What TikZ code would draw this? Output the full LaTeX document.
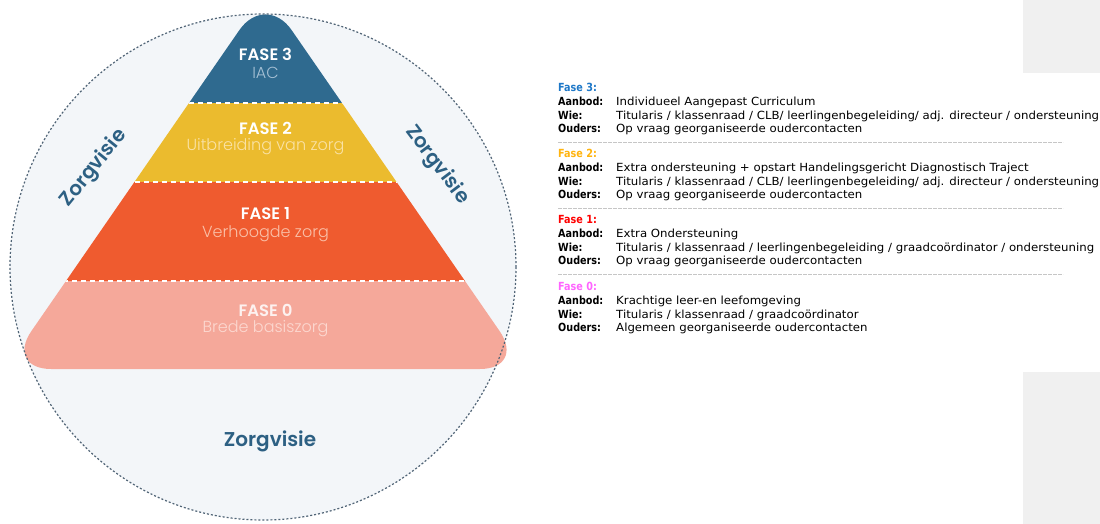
\documentclass[tikz,border=0pt]{standalone}
\usepackage{fontspec}
\setmainfont{Poppins}
\newfontfamily\semifont{Poppins SemiBold}
\newfontfamily\lightfont{Poppins Light}
\newfontfamily\infofont[FakeStretch=1.05]{DejaVu Sans}
\newfontfamily\infobold[FakeStretch=0.86]{DejaVu Sans Bold}
\usetikzlibrary{positioning}
\definecolor{zvblue}{RGB}{45,96,131}
\definecolor{f3blue}{RGB}{47,106,143}
\definecolor{f2yellow}{RGB}{235,187,46}
\definecolor{f1orange}{RGB}{239,91,47}
\definecolor{f0pink}{RGB}{245,168,154}
\definecolor{sub3}{RGB}{165,192,212}
\definecolor{sub2}{RGB}{250,226,165}
\definecolor{sub1}{RGB}{250,192,168}
\definecolor{sub0}{RGB}{252,216,208}
\definecolor{circfill}{RGB}{243,246,249}
\definecolor{circline}{RGB}{80,100,118}
\definecolor{panelgray}{RGB}{240,240,240}
\definecolor{tfase3}{RGB}{30,120,200}
\definecolor{tfase2}{RGB}{255,180,15}
\definecolor{tfase1}{RGB}{255,0,0}
\definecolor{tfase0}{RGB}{255,100,255}

\begin{document}
\begin{tikzpicture}[x=1pt, y=-1pt,
  fase/.style={font=\semifont\fontsize{16.5}{18}\selectfont, text=white, inner sep=0pt},
  sub/.style={font=\lightfont\fontsize{16}{18}\selectfont, inner sep=0pt},
  visie/.style={font=\semifont\fontsize{20}{22}\selectfont, text=zvblue, inner sep=0pt},
  ttl/.style={font=\infobold\fontsize{11.2}{12}\selectfont, anchor=west, inner sep=0pt, text height=10pt, text depth=3.5pt},
  lbl/.style={font=\infobold\fontsize{11.2}{12}\selectfont, inner sep=0pt, text height=10pt, text depth=3.5pt},
  val/.style={font=\infofont\fontsize{11.2}{12}\selectfont, inner sep=0pt, text height=10pt, text depth=3.5pt},
  sepline/.style={gray!45, line width=0.6pt, dash pattern=on 4pt off 1pt},
  layerline/.style={white, line width=2.5pt, dash pattern=on 5pt off 4pt},
]
\useasboundingbox (0,0) rectangle (1100,524);
\fill[white] (0,0) rectangle (1100,524);
\fill[panelgray] (1023,0) rectangle (1100,73);
\fill[panelgray] (1023,372) rectangle (1100,524);

% zorgcirkel
\fill[circfill] (263,267) circle (253);

% piramide, per fase een band binnen de afgeronde driehoek
\begin{scope}
  \clip[rounded corners=46pt] (265.5,369) -- (5.2,369) -- (265.5,-7.7) -- (525.8,369) -- cycle;
  \fill[f3blue] (0,-10) rectangle (530,103);
  \fill[f2yellow] (0,103) rectangle (530,182);
  \fill[f1orange] (0,182) rectangle (530,281);
  \fill[f0pink] (0,281) rectangle (530,372);
  \draw[layerline] (0,103) -- (530,103);
  \draw[layerline] (0,182) -- (530,182);
  \draw[layerline] (0,281) -- (530,281);
\end{scope}
\draw[circline, line width=1.2pt, dash pattern=on 2pt off 2pt] (263,267) circle (253);

\node[fase] (f3) at (265.5,54) {FASE 3};
\node[sub, text=sub3] (s3) at (265.5,73) {IAC};
\node[fase] (f2) at (265.5,128) {FASE 2};
\node[sub, text=sub2] (s2) at (265.5,147) {Uitbreiding van zorg};
\node[fase] (f1) at (265.5,214) {FASE 1};
\node[sub, text=sub1] (s1) at (265.5,234) {Verhoogde zorg};
\node[fase, text=white!85!f0pink] (f0) at (265.5,310) {FASE 0};
\node[sub, text=sub0] (s0) at (265.5,329) {Brede basiszorg};

\node[visie, rotate=51] (zl) at (94,168) {Zorgvisie};
\node[visie, rotate=-53] (zr) at (437,165) {Zorgvisie};
\node[visie] (zb) at (270,441) {Zorgvisie};

% toelichting per fase
\node[ttl, text=tfase3] (t3) at (558,88) {Fase 3:};
\node[lbl, below right=0pt of t3.south west] (a3) {Aanbod:};
\node[val, right=58pt of a3.west] (av3) {Individueel Aangepast Curriculum};
\node[lbl, below right=0pt of a3.south west] (w3) {Wie:};
\node[val, right=58pt of w3.west] (wv3) {Titularis / klassenraad / CLB/ leerlingenbegeleiding/ adj. directeur / ondersteuning};
\node[lbl, below right=0pt of w3.south west] (o3) {Ouders:};
\node[val, right=58pt of o3.west] (ov3) {Op vraag georganiseerde oudercontacten};
\draw[sepline] ([yshift=-6pt]o3.south west) -- ++(505,0);

\node[ttl, text=tfase2] (t2) at (558,154) {Fase 2:};
\node[lbl, below right=0pt of t2.south west] (a2) {Aanbod:};
\node[val, right=58pt of a2.west] (av2) {Extra ondersteuning + opstart Handelingsgericht Diagnostisch Traject};
\node[lbl, below right=0pt of a2.south west] (w2) {Wie:};
\node[val, right=58pt of w2.west] (wv2) {Titularis / klassenraad / CLB/ leerlingenbegeleiding/ adj. directeur / ondersteuning};
\node[lbl, below right=0pt of w2.south west] (o2) {Ouders:};
\node[val, right=58pt of o2.west] (ov2) {Op vraag georganiseerde oudercontacten};
\draw[sepline] ([yshift=-6pt]o2.south west) -- ++(505,0);

\node[ttl, text=tfase1] (t1) at (558,220) {Fase 1:};
\node[lbl, below right=0pt of t1.south west] (a1) {Aanbod:};
\node[val, right=58pt of a1.west] (av1) {Extra Ondersteuning};
\node[lbl, below right=0pt of a1.south west] (w1) {Wie:};
\node[val, right=58pt of w1.west] (wv1) {Titularis / klassenraad / leerlingenbegeleiding / graadcoördinator / ondersteuning};
\node[lbl, below right=0pt of w1.south west] (o1) {Ouders:};
\node[val, right=58pt of o1.west] (ov1) {Op vraag georganiseerde oudercontacten};
\draw[sepline] ([yshift=-6pt]o1.south west) -- ++(505,0);

\node[ttl, text=tfase0] (t0) at (558,287) {Fase 0:};
\node[lbl, below right=0pt of t0.south west] (a0) {Aanbod:};
\node[val, right=58pt of a0.west] (av0) {Krachtige leer-en leefomgeving};
\node[lbl, below right=0pt of a0.south west] (w0) {Wie:};
\node[val, right=58pt of w0.west] (wv0) {Titularis / klassenraad / graadcoördinator};
\node[lbl, below right=0pt of w0.south west] (o0) {Ouders:};
\node[val, right=58pt of o0.west] (ov0) {Algemeen georganiseerde oudercontacten};
\end{tikzpicture}
\end{document}
